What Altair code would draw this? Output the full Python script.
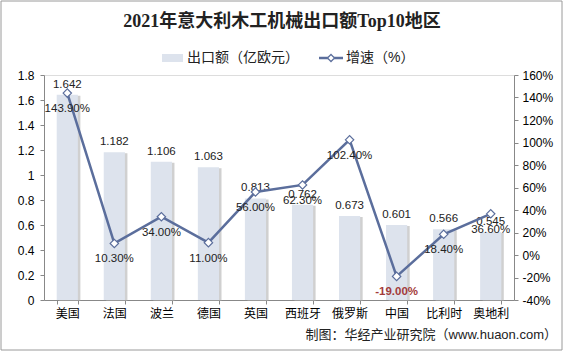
import altair as alt
import pandas as pd

regions = ["美国", "法国", "波兰", "德国", "英国", "西班牙", "俄罗斯", "中国", "比利时", "奥地利"]
export_value = [1.642, 1.182, 1.106, 1.063, 0.813, 0.762, 0.673, 0.601, 0.566, 0.545]
growth = [143.9, 10.3, 34.0, 11.0, 56.0, 62.3, 102.4, -19.0, 18.4, 36.6]

df = pd.DataFrame({
    "region": regions,
    "value": export_value,
    "growth": growth,
    "vlabel": [f"{v:.3f}" for v in export_value],
    "glabel": [f"{g:.2f}%" for g in growth],
})

FONT = "Liberation Sans, Noto Sans CJK SC"
BAR = "#DDE3ED"
LINE = "#5B6E9C"

x = alt.X("region:N", sort=regions, title=None,
          scale=alt.Scale(paddingInner=0.55, paddingOuter=0.27),
          axis=alt.Axis(labelAngle=0, labelFont=FONT, labelFontSize=12, labelColor="#000000",
                        domainColor="#888888", tickColor="#888888", ticks=True, tickSize=4,
                        tickBand="extent", labelPadding=4))

y_left = alt.Y("value:Q", title=None,
               scale=alt.Scale(domain=[0, 1.8], nice=False),
               axis=alt.Axis(values=[0, 0.2, 0.4, 0.6, 0.8, 1, 1.2, 1.4, 1.6, 1.8], format=".1~f",
                             grid=False, domainColor="#888888", tickColor="#888888", tickSize=4,
                             labelFont=FONT, labelFontSize=12, labelColor="#000000", labelPadding=6))

base = alt.Chart(df)

shadow = base.mark_bar(color="#A9A9A9", opacity=0.55, xOffset=2.5, yOffset=1).encode(
    x=x, y=y_left)
bars = base.mark_bar(color=BAR).encode(x=x, y=y_left)
bar_text = base.mark_text(baseline="bottom", dy=-5, font=FONT, fontSize=11.5, color="#222222").encode(
    x=x, y=y_left, text="vlabel:N")

left = alt.layer(shadow, bars, bar_text)

y_right = alt.Y("growth:Q", title=None, scale=alt.Scale(domain=[-40, 160], nice=False),
                axis=alt.Axis(orient="right", values=list(range(-40, 161, 20)),
                              labelExpr="datum.value + '%'", grid=False,
                              domainColor="#888888", tickColor="#888888", tickSize=4,
                              labelFont=FONT, labelFontSize=12, labelColor="#000000", labelPadding=4))

line = base.mark_line(color=LINE, strokeWidth=2.5).encode(x=x, y=y_right)
pts = base.mark_point(shape="diamond", filled=True, fill="white", stroke=LINE, strokeWidth=1.2,
                      size=70, opacity=1).encode(x=x, y=y_right)
g_text_pos = base.transform_filter("datum.growth >= 0").mark_text(
    baseline="top", dy=10, font=FONT, fontSize=11.5, color="#222222").encode(
    x=x, y=y_right, text="glabel:N")
g_text_neg = base.transform_filter("datum.growth < 0").mark_text(
    baseline="top", dy=10, font=FONT, fontSize=11.5, color="#A33B3B", fontWeight="bold").encode(
    x=x, y=y_right, text="glabel:N")

right = alt.layer(line, pts, g_text_pos, g_text_neg)

# title, legend, footer, frame decorations
leg_df = pd.DataFrame({"k": [0]})
leg = alt.Chart(leg_df)
frame = leg.mark_rect(fill=None, stroke="#9A9A9A", strokeWidth=1).encode(
    x=alt.value(-43), x2=alt.value(518), y=alt.value(-74), y2=alt.value(275))
title = leg.mark_text(align="center", baseline="middle", font="Liberation Serif, Noto Sans CJK SC",
                      fontSize=18, fontWeight="bold", color="#222222").encode(
    x=alt.value(238), y=alt.value(-53), text=alt.value("2021年意大利木工机械出口额Top10地区"))
leg_rect = leg.mark_rect(color=BAR).encode(x=alt.value(118), x2=alt.value(139), y=alt.value(-21), y2=alt.value(-13))
leg_t1 = leg.mark_text(align="left", baseline="middle", font=FONT, fontSize=14, color="#222222").encode(
    x=alt.value(143), y=alt.value(-17), text=alt.value("出口额（亿欧元）"))
leg_line = leg.mark_rule(color=LINE, strokeWidth=2.5).encode(x=alt.value(275), x2=alt.value(299), y=alt.value(-17))
leg_pt = leg.mark_point(shape="diamond", filled=True, fill="white", stroke=LINE, strokeWidth=1.2, size=50, opacity=1).encode(
    x=alt.value(287), y=alt.value(-17))
leg_t2 = leg.mark_text(align="left", baseline="middle", font=FONT, fontSize=14, color="#222222").encode(
    x=alt.value(302), y=alt.value(-17), text=alt.value("增速（%）"))
footer = leg.mark_text(align="right", baseline="middle", font=FONT, fontSize=13, color="#222222").encode(
    x=alt.value(513), y=alt.value(260), text=alt.value("制图：华经产业研究院（www.huaon.com）"))

chart = alt.layer(left, right, frame, title, leg_rect, leg_t1, leg_line, leg_pt, leg_t2, footer).resolve_scale(
    y="independent"
).properties(
    width=470, height=225,
    autosize=alt.AutoSizeParams(type="none"),
    padding={"left": 44, "top": 75, "right": 50, "bottom": 54},
).configure_view(stroke=None).configure(background="white")

chart.save("out.html", embed_options={"renderer": "svg", "actions": False})
